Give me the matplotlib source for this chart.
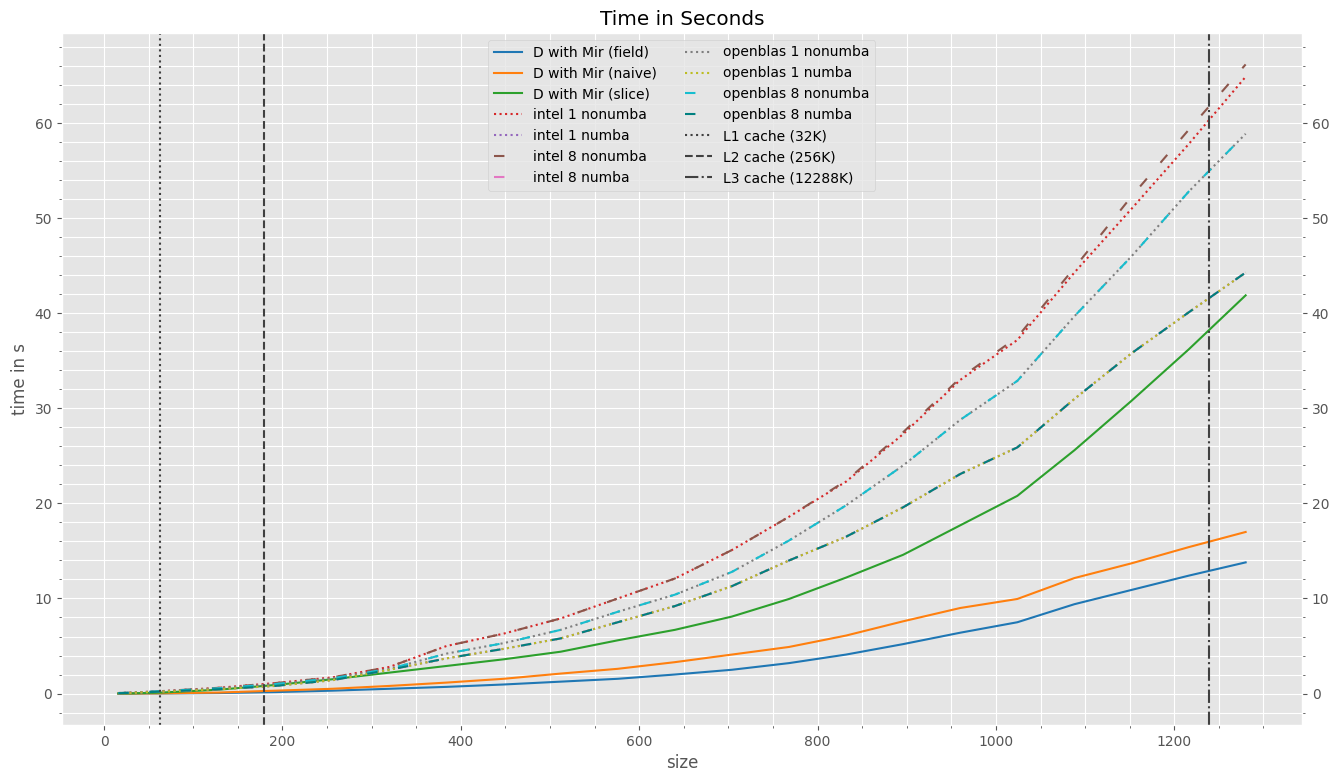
import numpy as np
import matplotlib
matplotlib.use('Agg')
import matplotlib.pyplot as plt

plt.style.use('ggplot')

# matrix sizes
sizes = [16, 32, 64, 128, 192, 256, 320, 384, 448, 512, 576, 640, 704, 768,
         832, 896, 960, 1024, 1088, 1152, 1216, 1280]

# timings in seconds
mir_field = [0.0, 0.0, 0.01, 0.05, 0.15, 0.3, 0.5, 0.7, 0.95, 1.25, 1.55, 2.0,
             2.5, 3.2, 4.1, 5.2, 6.4, 7.5, 9.4, 10.9, 12.4, 13.8]
mir_naive = [0.0, 0.0, 0.02, 0.1, 0.3, 0.5, 0.8, 1.15, 1.55, 2.1, 2.6, 3.3,
             4.1, 4.9, 6.1, 7.6, 9.0, 9.95, 12.15, 13.7, 15.4, 17.0]
mir_slice = [0.0, 0.02, 0.1, 0.4, 0.9, 1.5, 2.2, 2.9, 3.6, 4.4, 5.6, 6.7,
             8.1, 9.95, 12.2, 14.6, 17.7, 20.8, 25.6, 30.8, 36.2, 41.9]
intel1_nonumba = [0.05, 0.1, 0.25, 0.6, 1.1, 1.7, 2.8, 5.0, 6.3, 7.9, 10.0, 12.1,
                  15.1, 18.6, 22.3, 27.3, 33.0, 37.2, 44.3, 51.0, 57.8, 64.9]
intel1_numba = [0.03, 0.08, 0.2, 0.45, 0.8, 1.4, 2.5, 3.7, 4.7, 5.8, 7.5, 9.2,
                11.3, 14.0, 16.5, 19.6, 23.1, 25.9, 31.0, 35.8, 40.1, 44.3]
intel8_nonumba = [0.05, 0.1, 0.25, 0.6, 1.1, 1.7, 2.8, 5.0, 6.3, 7.9, 10.0, 12.1,
                  15.1, 18.6, 22.4, 27.5, 33.2, 37.5, 44.8, 52.3, 59.3, 66.2]
intel8_numba = [0.03, 0.08, 0.2, 0.45, 0.8, 1.4, 2.5, 3.7, 4.7, 5.8, 7.5, 9.2,
                11.3, 14.0, 16.5, 19.6, 23.1, 25.9, 31.0, 35.8, 40.1, 44.3]
openblas1_nonumba = [0.05, 0.1, 0.25, 0.55, 1.0, 1.6, 2.6, 4.2, 5.3, 6.7, 8.6, 10.4,
                     12.8, 16.1, 19.8, 24.0, 28.8, 32.9, 39.7, 46.0, 52.8, 58.9]
openblas1_numba = [0.03, 0.08, 0.2, 0.45, 0.8, 1.4, 2.5, 3.7, 4.7, 5.8, 7.5, 9.2,
                   11.3, 14.0, 16.5, 19.6, 23.1, 25.9, 31.0, 35.8, 40.1, 44.3]
openblas8_nonumba = [0.05, 0.1, 0.25, 0.55, 1.0, 1.6, 2.6, 4.2, 5.3, 6.7, 8.6, 10.4,
                     12.8, 16.1, 19.8, 24.0, 28.8, 32.9, 39.7, 46.0, 52.8, 58.9]
openblas8_numba = [0.03, 0.08, 0.2, 0.45, 0.8, 1.4, 2.5, 3.7, 4.7, 5.8, 7.5, 9.2,
                   11.3, 14.0, 16.5, 19.6, 23.1, 25.9, 31.0, 35.8, 40.1, 44.3]

# cache sizes in K (1K = 1000 bytes here), a matrix of doubles fits at sqrt(bytes / 8)
caches = [('L1 cache (32K)', 32, ':'), ('L2 cache (256K)', 256, '--'),
          ('L3 cache (12288K)', 12288, '-.')]

loose = (0, (5, 10))

fig = plt.figure(figsize=(13.38, 7.83), dpi=100)
ax = fig.add_subplot(111)
fig.subplots_adjust(left=0.0463, right=0.9731, bottom=0.0741, top=0.9579)

ax.plot(sizes, mir_field, color='#1f77b4', label='D with Mir (field)')
ax.plot(sizes, mir_naive, color='#ff7f0e', label='D with Mir (naive)')
ax.plot(sizes, mir_slice, color='#2ca02c', label='D with Mir (slice)')
ax.plot(sizes, intel1_nonumba, ':', color='#d62728', label='intel 1 nonumba')
ax.plot(sizes, intel1_numba, ':', color='#9467bd', label='intel 1 numba')
ax.plot(sizes, intel8_nonumba, linestyle=loose, color='#8c564b', label='intel 8 nonumba')
ax.plot(sizes, intel8_numba, linestyle=loose, color='#e377c2', label='intel 8 numba')
ax.plot(sizes, openblas1_nonumba, ':', color='#7f7f7f', label='openblas 1 nonumba')
ax.plot(sizes, openblas1_numba, ':', color='#bcbd22', label='openblas 1 numba')
ax.plot(sizes, openblas8_nonumba, linestyle=loose, color='#17becf', label='openblas 8 nonumba')
ax.plot(sizes, openblas8_numba, linestyle=loose, color='teal', label='openblas 8 numba')

for name, kb, ls in caches:
    ax.axvline(np.sqrt(kb * 1000 / 8), color='#404040', linestyle=ls, lw=1.5, label=name)

ax.set_title('Time in Seconds')
ax.set_xlabel('size')
ax.set_ylabel('time in s')
ax.minorticks_on()
ax.grid(True, which='both', color='white')
ax.yaxis.set_ticks_position('both')
ax.tick_params(axis='y', which='both', labelright=True)
ax.legend(loc='upper center', ncol=2)

plt.savefig('out.png', dpi=100)
